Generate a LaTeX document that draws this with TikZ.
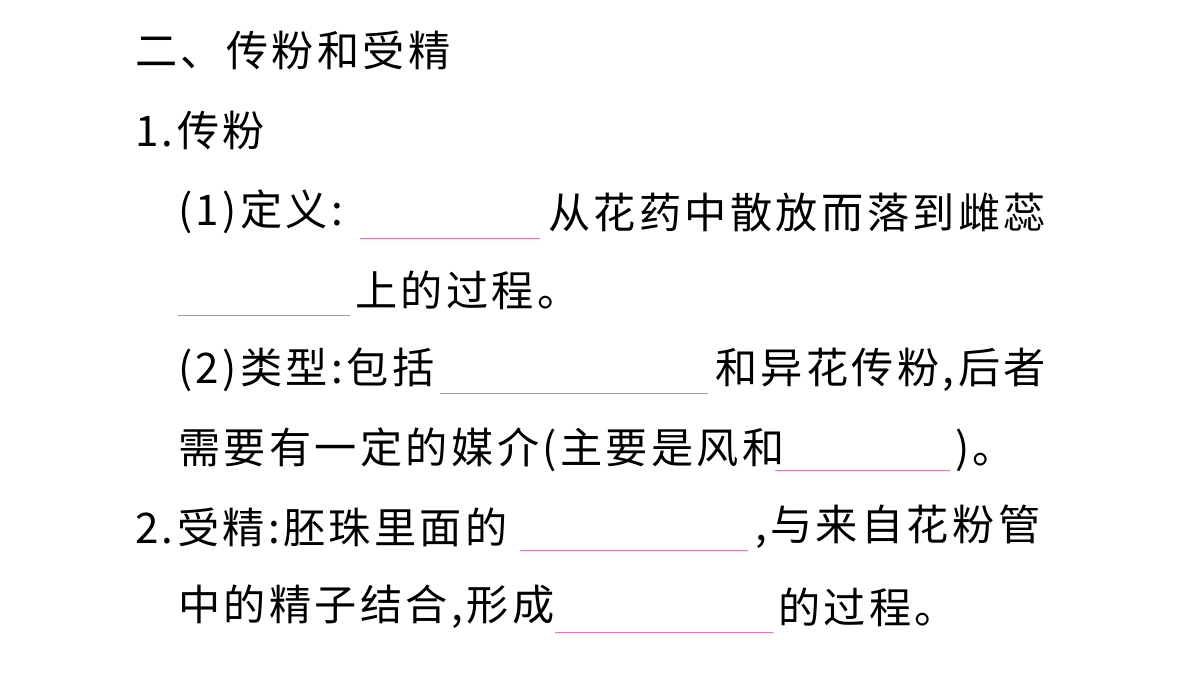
\documentclass[tikz,border=0pt]{standalone}
\usepackage{fontspec}
\newfontfamily\cjk[LetterSpace=8]{Noto Sans CJK SC}
\usetikzlibrary{positioning}
\definecolor{blankpink}{RGB}{225,120,180}
\begin{document}
\begin{tikzpicture}[x=0.03cm,y=-0.03cm,
    txt/.style={anchor=west, inner sep=0pt, font=\cjk\fontsize{36pt}{40pt}\selectfont},
    blank/.style={draw=blankpink, line width=0.8pt}]
\useasboundingbox (0,0) rectangle (1200,675);
\node[txt] (title) at (135,50) {二、传粉和受精};
\node[txt] (one) at (135,130) {1.传粉};
\node[txt] (defa) at (178,212) {(1)定义:};
\coordinate (b1s) at (360,238); \coordinate (b1e) at (540,238);
\node[txt] (defb) at (548,212) {从花药中散放而落到雌蕊};
\coordinate (b2s) at (178,315); \coordinate (b2e) at (350,315);
\node[txt] (defc) at (355,290) {上的过程。};
\node[txt] (typa) at (178,370) {(2)类型:包括};
\coordinate (b3s) at (440,393); \coordinate (b3e) at (708,393);
\node[txt] (typb) at (715,370) {和异花传粉,后者};
\node[txt] (typc) at (178,450) {需要有一定的媒介(主要是风和};
\coordinate (b4s) at (775,470); \coordinate (b4e) at (950,470);
\node[txt] (typd) at (955,450) {)。};
\node[txt] (fera) at (135,527) {2.受精:胚珠里面的};
\coordinate (b5s) at (520,550); \coordinate (b5e) at (748,550);
\node[txt] (ferb) at (755,527) {,与来自花粉管};
\node[txt] (ferc) at (178,607) {中的精子结合,形成};
\coordinate (b6s) at (555,632); \coordinate (b6e) at (773,632);
\node[txt] (ferd) at (778,607) {的过程。};
\foreach \b in {b1,b2,b3,b4,b5,b6}
  \draw[blank] (\b s) -- (\b e);
\end{tikzpicture}
\end{document}
